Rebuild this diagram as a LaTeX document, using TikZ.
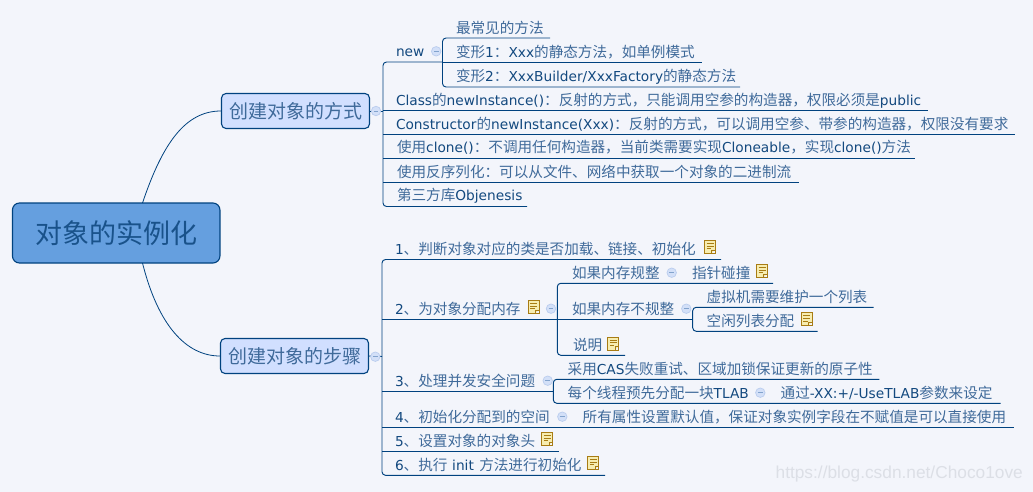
\documentclass[tikz,border=0pt]{standalone}
\usepackage{fontspec}
\setmainfont[Scale=0.94]{DejaVu Sans}
\newfontfamily\cjkfont{Noto Sans CJK SC}
\newfontfamily\wmfont{Liberation Sans}
\definecolor{bgcol}{HTML}{F3F5FB}
\definecolor{linecol}{HTML}{00427F}
\definecolor{latincol}{HTML}{13497F}
\definecolor{cjkcol}{HTML}{3F6A9A}
\definecolor{boxfill}{HTML}{D1DFFF}
\definecolor{rootfill}{HTML}{659FDF}
\definecolor{foldfill}{HTML}{D3E0F8}
\definecolor{foldedge}{HTML}{BACDEE}
\definecolor{notefill}{HTML}{F7EDB0}
\definecolor{noteedge}{HTML}{A87C14}
\definecolor{wmcol}{HTML}{DCDFE6}
\newcommand\cj[1]{{\cjkfont\color{cjkcol}#1}}
\newcommand\tp[7]{%
  \node[topic] (#1) at (#2,#3) {#7};
  \coordinate (#1-l) at (#4,#5);
  \coordinate (#1-r) at (#6,#5);}
\tikzset{
  link/.style={draw=linecol,line width=0.95pt},
  trunk/.style={link,rounded corners=3.5pt},
  topic/.style={anchor=west,inner sep=0pt,outer sep=0pt,text height=11pt,text depth=0pt,
    text=latincol,font=\fontsize{14.6}{16}\selectfont},
  mainbox/.style={draw=linecol,line width=1.1pt,rounded corners=4.5pt,fill=boxfill,inner sep=0pt,
    minimum width=148pt,minimum height=35pt,text height=14.5pt,text depth=0pt,
    font=\fontsize{19}{21}\selectfont},
  rootbox/.style={draw=linecol,line width=1.1pt,rounded corners=7pt,fill=rootfill,inner sep=0pt,
    minimum width=207.5pt,minimum height=60pt,text height=20.5pt,text depth=0pt,
    font=\fontsize{27}{29}\selectfont},
  foldmark/.style={circle,minimum size=9.5pt,inner sep=0pt,fill=foldfill,draw=foldedge,line width=0.7pt,
    path picture={\draw[color=foldedge!70!linecol,line width=0.7pt] (-2.4pt,0pt)--(2.4pt,0pt);}},
  notemark/.style={rectangle,minimum width=11pt,minimum height=13pt,inner sep=0pt,fill=notefill,
    draw=noteedge,line width=1pt,
    path picture={
      \draw[color=noteedge,line width=0.8pt] (-3.5pt,3.6pt)--(3.5pt,3.6pt) (-3.5pt,1pt)--(3.5pt,1pt) (-3.5pt,-1.6pt)--(1pt,-1.6pt);
      \fill[bgcol] (6pt,-2pt)--(6pt,-7pt)--(1.2pt,-7pt)--cycle;
      \draw[color=noteedge,line width=0.8pt] (1.7pt,-6.5pt)--(1.7pt,-3pt)--(5.5pt,-3pt);}},
}
\begin{document}
\begin{tikzpicture}[x=1pt,y=-1pt]
\useasboundingbox (0,0) rectangle (1033,492);
\fill[bgcol] (0,0) rectangle (1033,492);

% central and main topics
\node[rootbox] (root) at (116.2,233) {\cj{\color{linecol!60!cjkcol}对象的实例化}};
\node[mainbox] (way) at (295.5,111) {\cj{创建对象的方式}};
\node[mainbox] (steps) at (294.5,356) {\cj{创建对象的步骤}};
\coordinate (rootA) at (142.5,203);
\coordinate (rootB) at (142.5,263);
\draw[link,line width=0.8pt] (rootA) .. controls (163,142) and (186,111) .. (way.west);
\draw[link,line width=0.8pt] (rootB) .. controls (158,325) and (186,356) .. (steps.west);

% first branch
\tp{new}{396}{51}{383}{62}{442.5}{new}
\tp{a1}{456}{28}{442.5}{38}{550}{\cj{最常见的方法}}
\tp{a2}{456}{52}{442.5}{62}{702}{\cj{变形}1\cj{：}Xxx\cj{的静态方法，如单例模式}}
\tp{a3}{456}{76}{442.5}{87}{740}{\cj{变形}2\cj{：}XxxBuilder/XxxFactory\cj{的静态方法}}
\tp{b1}{396}{100}{383}{110.5}{928}{Class\cj{的}newInstance()\cj{：反射的方式，只能调用空参的构造器，权限必须是}public}
\tp{b2}{396}{124}{383}{134.5}{1015}{Constructor\cj{的}newInstance(Xxx)\cj{：反射的方式，可以调用空参、带参的构造器，权限没有要求}}
\tp{b3}{397}{147}{383}{158}{915}{\cj{使用}clone()\cj{：不调用任何构造器，当前类需要实现}Cloneable\cj{，实现}clone()\cj{方法}}
\tp{b4}{397}{172}{383}{182}{799}{\cj{使用反序列化：可以从文件、网络中获取一个对象的二进制流}}
\tp{b5}{397}{195}{383}{206.5}{527}{\cj{第三方库}Objenesis}
\coordinate (wayJ) at (383,111);
\draw[link] (way.east) -- (wayJ);
\draw[trunk] (new-r) -- (new-l) -- (b5-l) -- (b5-r);
\foreach \t in {b1,b2,b3,b4} \draw[link] (\t-l) -- (\t-r);
\draw[trunk] (a1-r) -- (a1-l) -- (a3-l) -- (a3-r);
\draw[link] (a2-l) -- (a2-r);

% second branch
\tp{s1}{395}{249}{382}{259.5}{721}{1\cj{、判断对象对应的类是否加载、链接、初始化}}
\tp{s2}{395}{308.7}{382}{319.3}{557.3}{2\cj{、为对象分配内存}}
\tp{s3}{395}{381}{382}{391.3}{553.3}{3\cj{、处理并发安全问题}}
\tp{s4}{395}{416.7}{382}{427.3}{1014}{4\cj{、初始化分配到的空间}}
\tp{s5}{395}{440.7}{382}{451.3}{559}{5\cj{、设置对象的对象头}}
\tp{s6}{395}{465}{382}{475.3}{605}{6\cj{、执行 }\hspace{1.4pt}init \hspace{1pt}\cj{方法进行初始化}}
\coordinate (stepsJ) at (382,356.5);
\draw[link] (steps.east) -- (stepsJ);
\draw[trunk] (s1-r) -- (s1-l) -- (s6-l) -- (s6-r);
\foreach \t in {s2,s3,s4,s5} \draw[link] (\t-l) -- (\t-r);

\tp{m1}{572}{272.7}{557.3}{283.3}{773}{\cj{如果内存规整}}
\tp{m2}{572}{308.7}{557.3}{319.3}{692.7}{\cj{如果内存不规整}}
\tp{m3}{573}{344.7}{557.3}{355.3}{625}{\cj{说明}}
\draw[trunk] (m1-r) -- (m1-l) -- (m3-l) -- (m3-r);
\draw[link] (m2-l) -- (m2-r);
\node[topic] (m1x) at (692,272.7) {\cj{指针碰撞}};

\tp{k1}{706.7}{297}{692.7}{307.3}{873.7}{\cj{虚拟机需要维护一个列表}}
\tp{k2}{706.7}{320.7}{692.7}{331.3}{817.7}{\cj{空闲列表分配}}
\draw[trunk] (k1-r) -- (k1-l) -- (k2-l) -- (k2-r);

\tp{t1}{567.7}{368.7}{553.3}{379.3}{879.3}{\cj{采用}CAS\cj{失败重试、区域加锁保证更新的原子性}}
\tp{t2}{567.7}{392.7}{553.3}{403.3}{1000.7}{\cj{每个线程预先分配一块}TLAB}
\draw[trunk] (t1-r) -- (t1-l) -- (t2-l) -- (t2-r);
\node[topic] (t2x) at (780.7,392.7) {\cj{通过}-XX:+/-UseTLAB\cj{参数来设定}};
\node[topic] (s4x) at (582.7,416.7) {\cj{所有属性设置默认值，保证对象实例字段在不赋值是可以直接使用}};

% fold markers
\node[foldmark] (f1) at (436.2,51.3) {};
\node[foldmark] (f2) at (376,111) {};
\node[foldmark] (f3) at (375.3,356.7) {};
\node[foldmark] (f4) at (551,308.7) {};
\node[foldmark] (f5) at (671.7,272.7) {};
\node[foldmark] (f6) at (686.3,308.7) {};
\node[foldmark] (f7) at (547.7,380.7) {};
\node[foldmark] (f8) at (760.3,392.7) {};
\node[foldmark] (f9) at (562.3,416.7) {};

% note markers
\node[notemark] (n1) at (710,247) {};
\node[notemark] (n2) at (533.7,307) {};
\node[notemark] (n3) at (762,271) {};
\node[notemark] (n4) at (806.7,319.3) {};
\node[notemark] (n5) at (613.3,343.7) {};
\node[notemark] (n6) at (547.3,439) {};
\node[notemark] (n7) at (593.3,463) {};

% watermark
\node[anchor=east,inner sep=0pt,text=wmcol,font=\wmfont\fontsize{17.3}{19}\selectfont] (wm) at (1023,474) {https://blog.csdn.net/Choco1ove};
\end{tikzpicture}
\end{document}
